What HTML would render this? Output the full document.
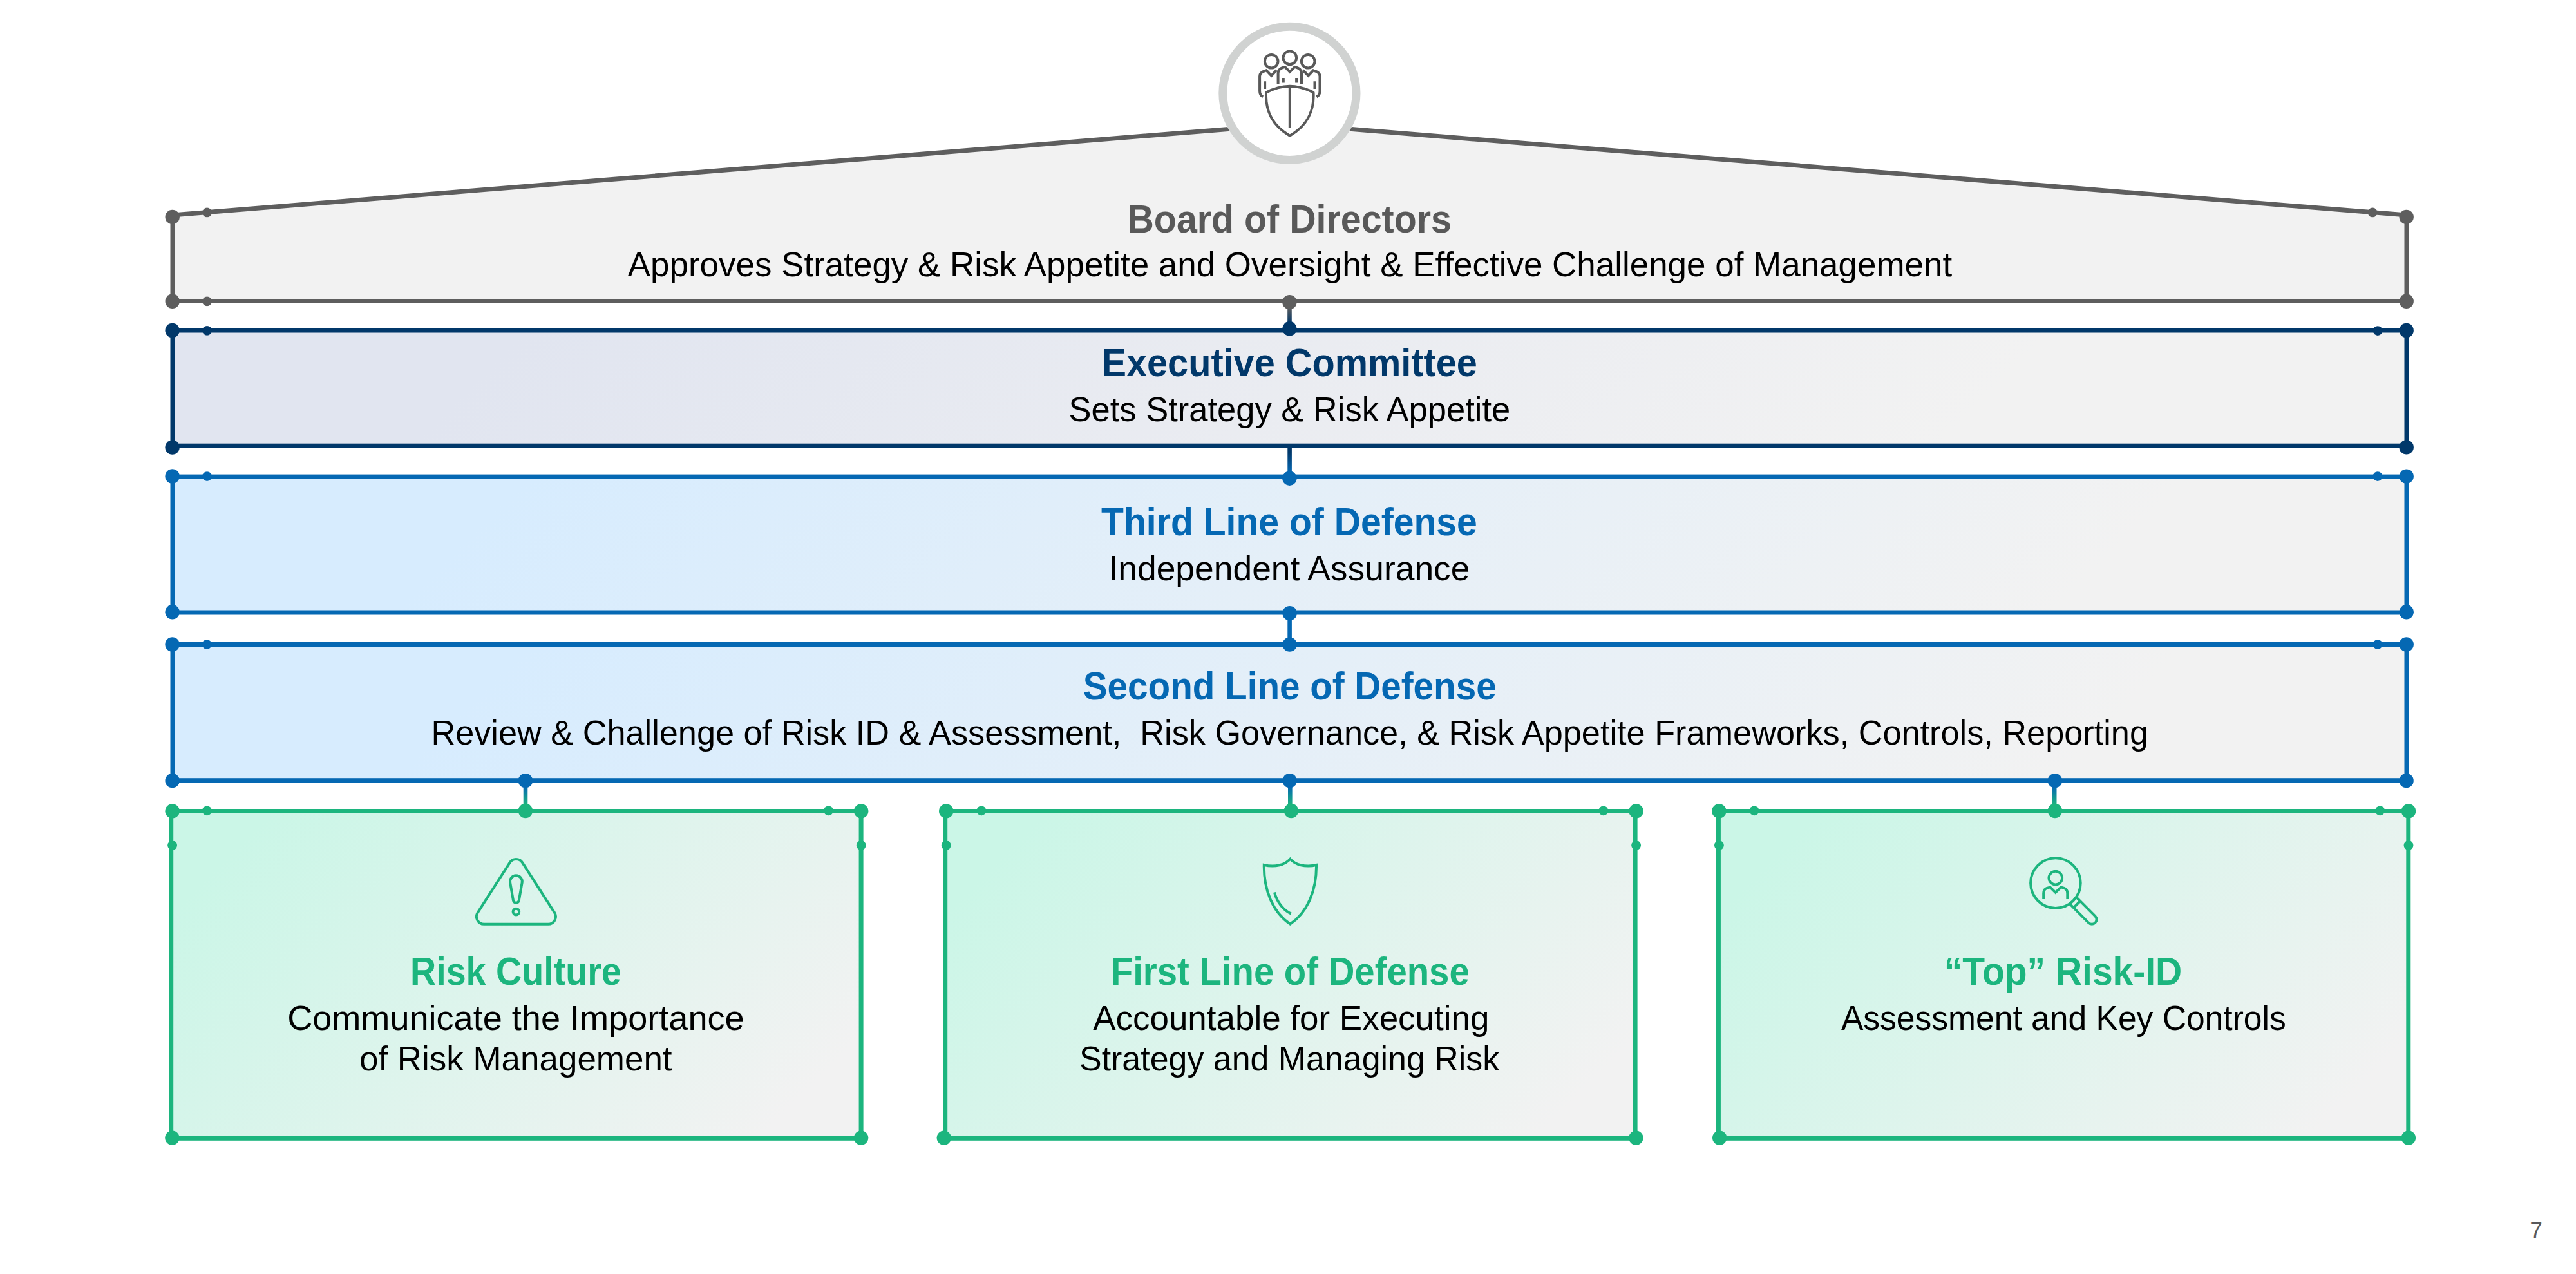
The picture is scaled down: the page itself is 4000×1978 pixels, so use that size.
<!DOCTYPE html>
<html lang="en"><head><meta charset="utf-8"><title>Risk Governance Structure</title>
<style>
html,body{margin:0;padding:0;background:#fff;}
body{width:4000px;height:1978px;overflow:hidden;}
svg{display:block;}
text{font-family:"Liberation Sans",sans-serif;white-space:pre;}
</style></head><body>
<svg width="4000" height="1978" viewBox="0 0 4000 1978" role="img" aria-label="Risk governance structure diagram">
<defs>
<linearGradient id="gE" gradientUnits="userSpaceOnUse" x1="268.0" y1="513.0" x2="2092.1" y2="2337.1"><stop offset="0" stop-color="#e1e5f0"/><stop offset="0.15" stop-color="#e1e5f0"/><stop offset="0.8" stop-color="#f2f2f2"/><stop offset="1" stop-color="#f2f2f2"/></linearGradient>
<linearGradient id="gT" gradientUnits="userSpaceOnUse" x1="268.0" y1="740.1" x2="2107.9" y2="2580.1"><stop offset="0" stop-color="#d7ecfe"/><stop offset="0.15" stop-color="#d7ecfe"/><stop offset="0.85" stop-color="#f2f2f2"/><stop offset="1" stop-color="#f2f2f2"/></linearGradient>
<linearGradient id="gS" gradientUnits="userSpaceOnUse" x1="268.0" y1="1000.5" x2="2108.1" y2="2840.6"><stop offset="0" stop-color="#d7ecfe"/><stop offset="0.15" stop-color="#d7ecfe"/><stop offset="0.85" stop-color="#f2f2f2"/><stop offset="1" stop-color="#f2f2f2"/></linearGradient>
<linearGradient id="gG0" gradientUnits="userSpaceOnUse" x1="265.7" y1="1259.5" x2="1055.3" y2="2049.1"><stop offset="0" stop-color="#cbf6e7"/><stop offset="0.1" stop-color="#cbf6e7"/><stop offset="0.9" stop-color="#f2f2f2"/><stop offset="1" stop-color="#f2f2f2"/></linearGradient>
<linearGradient id="gG1" gradientUnits="userSpaceOnUse" x1="1467.7" y1="1259.5" x2="2257.3" y2="2049.1"><stop offset="0" stop-color="#cbf6e7"/><stop offset="0.1" stop-color="#cbf6e7"/><stop offset="0.9" stop-color="#f2f2f2"/><stop offset="1" stop-color="#f2f2f2"/></linearGradient>
<linearGradient id="gG2" gradientUnits="userSpaceOnUse" x1="2668.4" y1="1259.5" x2="3458.0" y2="2049.1"><stop offset="0" stop-color="#cbf6e7"/><stop offset="0.1" stop-color="#cbf6e7"/><stop offset="0.9" stop-color="#f2f2f2"/><stop offset="1" stop-color="#f2f2f2"/></linearGradient>
<linearGradient id="c1" gradientUnits="userSpaceOnUse" x1="2002.5" y1="469" x2="2002.501" y2="510"><stop offset="0.2" stop-color="#5e5e5e"/><stop offset="0.8" stop-color="#01386a"/></linearGradient>
<linearGradient id="c2" gradientUnits="userSpaceOnUse" x1="2002.6" y1="692" x2="2002.601" y2="742.7"><stop offset="0.2" stop-color="#01386a"/><stop offset="0.8" stop-color="#0568b3"/></linearGradient>
<linearGradient id="c3" gradientUnits="userSpaceOnUse" x1="2002.6" y1="952" x2="2002.601" y2="1000.6"><stop offset="0.2" stop-color="#0568b3"/><stop offset="0.8" stop-color="#0568b3"/></linearGradient>
<linearGradient id="c4" gradientUnits="userSpaceOnUse" x1="816.0" y1="1212" x2="816.001" y2="1259"><stop offset="0.2" stop-color="#0568b3"/><stop offset="0.8" stop-color="#1cb57e"/></linearGradient>
<linearGradient id="c5" gradientUnits="userSpaceOnUse" x1="2003.3" y1="1212" x2="2003.301" y2="1259"><stop offset="0.2" stop-color="#0568b3"/><stop offset="0.8" stop-color="#1cb57e"/></linearGradient>
<linearGradient id="c6" gradientUnits="userSpaceOnUse" x1="3190.2" y1="1212" x2="3190.201" y2="1259"><stop offset="0.2" stop-color="#0568b3"/><stop offset="0.8" stop-color="#1cb57e"/></linearGradient>
</defs>
<rect width="4000" height="1978" fill="#fff"/>
<path d="M268.0,467.6 L268.0,334 L2002.4,192.7 L3737.0,334 L3737.0,467.6 Z" fill="#f2f2f2" stroke="#5e5e5e" stroke-width="7.0" stroke-linejoin="miter"/>
<rect x="268.0" y="513.0" width="3469.0" height="179.20000000000005" fill="url(#gE)" stroke="#01386a" stroke-width="7.0"/>
<rect x="268.0" y="740.1" width="3469.0" height="210.89999999999998" fill="url(#gT)" stroke="#0568b3" stroke-width="7.0"/>
<rect x="268.0" y="1000.5" width="3469.0" height="211.20000000000005" fill="url(#gS)" stroke="#0568b3" stroke-width="7.0"/>
<rect x="265.7" y="1259.5" width="1071.4" height="507.8" fill="url(#gG0)" stroke="#1cb57e" stroke-width="7.0"/>
<rect x="1467.7" y="1259.5" width="1071.4" height="507.8" fill="url(#gG1)" stroke="#1cb57e" stroke-width="7.0"/>
<rect x="2668.4" y="1259.5" width="1071.4" height="507.8" fill="url(#gG2)" stroke="#1cb57e" stroke-width="7.0"/>
<line x1="2002.5" y1="469" x2="2002.501" y2="510" stroke="url(#c1)" stroke-width="6.6"/>
<line x1="2002.6" y1="692" x2="2002.601" y2="742.7" stroke="url(#c2)" stroke-width="6.6"/>
<line x1="2002.6" y1="952" x2="2002.601" y2="1000.6" stroke="url(#c3)" stroke-width="6.6"/>
<line x1="816.0" y1="1212" x2="816.001" y2="1259" stroke="url(#c4)" stroke-width="6.6"/>
<line x1="2003.3" y1="1212" x2="2003.301" y2="1259" stroke="url(#c5)" stroke-width="6.6"/>
<line x1="3190.2" y1="1212" x2="3190.201" y2="1259" stroke="url(#c6)" stroke-width="6.6"/>
<circle cx="267.7" cy="336.9" r="11.2" fill="#5e5e5e"/>
<circle cx="3736.7" cy="336.9" r="11.2" fill="#5e5e5e"/>
<circle cx="267.7" cy="467.8" r="11.2" fill="#5e5e5e"/>
<circle cx="3736.7" cy="467.8" r="11.2" fill="#5e5e5e"/>
<circle cx="2002.4" cy="469.1" r="11.2" fill="#5e5e5e"/>
<circle cx="321.5" cy="329.9" r="7.4" fill="#5e5e5e"/>
<circle cx="3684.1" cy="329.9" r="7.4" fill="#5e5e5e"/>
<circle cx="321.5" cy="467.8" r="7.4" fill="#5e5e5e"/>
<circle cx="267.6" cy="513" r="11.2" fill="#01386a"/>
<circle cx="3736.7" cy="513" r="11.2" fill="#01386a"/>
<circle cx="267.6" cy="694.6" r="11.2" fill="#01386a"/>
<circle cx="3736.7" cy="694.4" r="11.2" fill="#01386a"/>
<circle cx="2002.4" cy="510.3" r="11.2" fill="#01386a"/>
<circle cx="321.5" cy="513.3" r="7.4" fill="#01386a"/>
<circle cx="3692.1" cy="513.6" r="7.4" fill="#01386a"/>
<circle cx="267.6" cy="739.5" r="11.2" fill="#0568b3"/>
<circle cx="3736.7" cy="739.7" r="11.2" fill="#0568b3"/>
<circle cx="267.6" cy="950.3" r="11.2" fill="#0568b3"/>
<circle cx="3736.7" cy="950.3" r="11.2" fill="#0568b3"/>
<circle cx="2002.4" cy="742.7" r="11.2" fill="#0568b3"/>
<circle cx="2002.6" cy="952.2" r="11.2" fill="#0568b3"/>
<circle cx="321.5" cy="739.6" r="7.4" fill="#0568b3"/>
<circle cx="3692" cy="739.6" r="7.4" fill="#0568b3"/>
<circle cx="267.6" cy="1000.5" r="11.2" fill="#0568b3"/>
<circle cx="3736.7" cy="1000.5" r="11.2" fill="#0568b3"/>
<circle cx="267.6" cy="1212.2" r="11.2" fill="#0568b3"/>
<circle cx="3736.6" cy="1212.2" r="11.2" fill="#0568b3"/>
<circle cx="2002.6" cy="1000.6" r="11.2" fill="#0568b3"/>
<circle cx="815.9" cy="1212.2" r="11.2" fill="#0568b3"/>
<circle cx="2002.6" cy="1212.2" r="11.2" fill="#0568b3"/>
<circle cx="3190.9" cy="1212.2" r="11.2" fill="#0568b3"/>
<circle cx="321.2" cy="1000.5" r="7.4" fill="#0568b3"/>
<circle cx="3692" cy="1000.5" r="7.4" fill="#0568b3"/>
<circle cx="267.6" cy="1259.4" r="11.2" fill="#1cb57e"/>
<circle cx="1337.2" cy="1259.4" r="11.2" fill="#1cb57e"/>
<circle cx="267.4" cy="1766.6" r="11.2" fill="#1cb57e"/>
<circle cx="1337.1" cy="1766.6" r="11.2" fill="#1cb57e"/>
<circle cx="815.9" cy="1259.0" r="11.2" fill="#1cb57e"/>
<circle cx="321.4" cy="1258.8" r="7.4" fill="#1cb57e"/>
<circle cx="1286.5" cy="1258.8" r="7.4" fill="#1cb57e"/>
<circle cx="267.6" cy="1312.5" r="7.4" fill="#1cb57e"/>
<circle cx="1337.2" cy="1312.5" r="7.4" fill="#1cb57e"/>
<circle cx="1469.2" cy="1259.4" r="11.2" fill="#1cb57e"/>
<circle cx="2540.6" cy="1259.4" r="11.2" fill="#1cb57e"/>
<circle cx="1465.8" cy="1766.6" r="11.2" fill="#1cb57e"/>
<circle cx="2540.4" cy="1766.6" r="11.2" fill="#1cb57e"/>
<circle cx="2004.9" cy="1259.0" r="11.2" fill="#1cb57e"/>
<circle cx="1523.9" cy="1258.8" r="7.4" fill="#1cb57e"/>
<circle cx="2489.8" cy="1258.8" r="7.4" fill="#1cb57e"/>
<circle cx="1469.2" cy="1312.5" r="7.4" fill="#1cb57e"/>
<circle cx="2540.6" cy="1312.5" r="7.4" fill="#1cb57e"/>
<circle cx="2669.4" cy="1259.4" r="11.2" fill="#1cb57e"/>
<circle cx="3740.0" cy="1259.4" r="11.2" fill="#1cb57e"/>
<circle cx="2670.2" cy="1766.6" r="11.2" fill="#1cb57e"/>
<circle cx="3739.9" cy="1766.6" r="11.2" fill="#1cb57e"/>
<circle cx="3190.9" cy="1259.0" r="11.2" fill="#1cb57e"/>
<circle cx="2724.0" cy="1258.8" r="7.4" fill="#1cb57e"/>
<circle cx="3695.7" cy="1258.8" r="7.4" fill="#1cb57e"/>
<circle cx="2669.4" cy="1312.5" r="7.4" fill="#1cb57e"/>
<circle cx="3740.0" cy="1312.5" r="7.4" fill="#1cb57e"/>
<circle cx="2002.4" cy="144.8" r="103.6" fill="#fff" stroke="#d0d2d1" stroke-width="13"/>
<g fill="none" stroke="#595959" stroke-width="4" stroke-linejoin="miter">
<circle cx="2002.8" cy="89.7" r="10.3"/><circle cx="1974.2" cy="95.2" r="10.3"/><circle cx="2031.2" cy="95.2" r="10.3"/>
<path d="M1984.6,130.3 L1984.6,113.4 Q1984.6,106.5 1994.0,104.2 L1995.3,103.9 L2002.8,111.7 L2010.4,103.9 L2011.6,104.2 Q2021.0,106.5 2021.0,113.4 L2021.0,130.3"/>
<path d="M1992.8,120.9 L1992.8,128.4 M2013.1,120.9 L2013.1,128.4"/>
<path d="M1961.1,150.4 Q1956.1,147.9 1956.1,141.6 L1956.1,118.4 Q1956.1,112.1 1965.1,109.7 L1966.4,109.3 L1974.2,117.5 L1982.3,109.0"/>
<path d="M2044.5,150.4 Q2049.5,147.9 2049.5,141.6 L2049.5,118.4 Q2049.5,112.1 2040.5,109.7 L2039.2,109.3 L2031.5,117.5 L2023.3,109.0"/>
<path d="M1964.1,126.2 L1964.1,137.9 M2041.5,126.2 L2041.5,137.9"/>
<path d="M1966.1,143.5 Q1984.0,134.3 2002.8,133.8 Q2021.7,134.3 2039.5,143.5 C2041.1,171.8 2029.2,195.7 2002.8,210.7 C1976.4,195.7 1964.5,171.8 1966.1,143.5 Z" fill="#fff" stroke-linejoin="round"/>
<path d="M2002.8,134.3 L2002.8,198.4"/>
</g>
<g fill="none" stroke="#1cb57e" stroke-width="4"><path d="M791.6,1339.4 A11.6,11.6 0 0 1 811.2,1339.4 L861.0,1416.8 A11.6,11.6 0 0 1 851.2,1434.7 L751.6,1434.7 A11.6,11.6 0 0 1 741.8,1416.8 Z"/><path d="M810.7,1370.1 L805.8,1398.2 A4.5,4.5 0 0 1 797.0,1398.2 L792.1,1370.1 A9.4,9.4 0 1 1 810.7,1370.1 Z"/><circle cx="801.4" cy="1415.6" r="4.8"/></g>
<g fill="none" stroke="#1cb57e" stroke-width="4" stroke-linejoin="miter">
<path d="M2003.4,1333.7 C1995.5,1342.7 1980.4,1347.1 1962.8,1343.0 C1962.2,1380.4 1975.4,1415.6 2003.4,1434.7 C2031.4,1415.6 2044.6,1380.4 2044.0,1343.0 C2026.4,1347.1 2011.3,1342.7 2003.4,1333.7 Z"/>
<path d="M1978.9,1385.4 C1982.9,1400.5 1993.0,1413.7 2004.9,1418.7"/>
</g>
<g fill="none" stroke="#1cb57e" stroke-width="4">
<circle cx="3191.9" cy="1371.1" r="38.8"/>
<circle cx="3191.8" cy="1363.1" r="10.3"/>
<path d="M3173.2,1396.0 L3173.2,1386.7 Q3173.2,1379.4 3181.9,1377.9 L3183.5,1377.6 L3191.8,1385.7 L3200.1,1377.6 L3201.8,1377.9 Q3210.3,1379.4 3210.3,1386.7 L3210.3,1396.0" stroke-linejoin="miter"/>
<g transform="rotate(45 3191.9 1371.1)"><path d="M3230.0,1363.8 L3271.6,1363.8 A7.3,7.3 0 0 1 3271.6,1378.3999999999999 L3230.0,1378.3999999999999 M3238.7000000000003,1363.8 L3238.7000000000003,1378.3999999999999"/></g>
</g>
<text x="1750.46" y="360.5" font-size="62" font-weight="700" fill="#595959" textLength="503.49" lengthAdjust="spacingAndGlyphs" xml:space="preserve">Board of Directors</text>
<text x="974.70" y="429.0" font-size="54" font-weight="400" fill="#000" textLength="2056.49" lengthAdjust="spacingAndGlyphs" xml:space="preserve">Approves Strategy &amp; Risk Appetite and Oversight &amp; Effective Challenge of Management</text>
<text x="1710.44" y="584.4" font-size="62" font-weight="700" fill="#01386a" textLength="583.43" lengthAdjust="spacingAndGlyphs" xml:space="preserve">Executive Committee</text>
<text x="1659.52" y="653.5" font-size="54" font-weight="400" fill="#000" textLength="685.72" lengthAdjust="spacingAndGlyphs" xml:space="preserve">Sets Strategy &amp; Risk Appetite</text>
<text x="1710.06" y="831.0" font-size="62" font-weight="700" fill="#0568b3" textLength="583.79" lengthAdjust="spacingAndGlyphs" xml:space="preserve">Third Line of Defense</text>
<text x="1721.47" y="900.9" font-size="54" font-weight="400" fill="#000" textLength="561.00" lengthAdjust="spacingAndGlyphs" xml:space="preserve">Independent Assurance</text>
<text x="1681.87" y="1086.3" font-size="62" font-weight="700" fill="#0568b3" textLength="641.77" lengthAdjust="spacingAndGlyphs" xml:space="preserve">Second Line of Defense</text>
<text x="669.41" y="1155.9" font-size="54" font-weight="400" fill="#000" textLength="2666.56" lengthAdjust="spacingAndGlyphs" xml:space="preserve">Review &amp; Challenge of Risk ID &amp; Assessment,  Risk Governance, &amp; Risk Appetite Frameworks, Controls, Reporting</text>
<text x="636.98" y="1528.8" font-size="62" font-weight="700" fill="#1cb57e" textLength="327.83" lengthAdjust="spacingAndGlyphs" xml:space="preserve">Risk Culture</text>
<text x="446.15" y="1598.7" font-size="54" font-weight="400" fill="#000" textLength="709.45" lengthAdjust="spacingAndGlyphs" xml:space="preserve">Communicate the Importance</text>
<text x="557.98" y="1662.1" font-size="54" font-weight="400" fill="#000" textLength="485.61" lengthAdjust="spacingAndGlyphs" xml:space="preserve">of Risk Management</text>
<text x="1724.83" y="1528.8" font-size="62" font-weight="700" fill="#1cb57e" textLength="556.89" lengthAdjust="spacingAndGlyphs" xml:space="preserve">First Line of Defense</text>
<text x="1697.20" y="1598.7" font-size="54" font-weight="400" fill="#000" textLength="615.22" lengthAdjust="spacingAndGlyphs" xml:space="preserve">Accountable for Executing</text>
<text x="1676.04" y="1662.1" font-size="54" font-weight="400" fill="#000" textLength="652.08" lengthAdjust="spacingAndGlyphs" xml:space="preserve">Strategy and Managing Risk</text>
<text x="3018.80" y="1528.8" font-size="62" font-weight="700" fill="#1cb57e" textLength="369.50" lengthAdjust="spacingAndGlyphs" xml:space="preserve">“Top” Risk-ID</text>
<text x="2858.90" y="1598.7" font-size="54" font-weight="400" fill="#000" textLength="690.86" lengthAdjust="spacingAndGlyphs" xml:space="preserve">Assessment and Key Controls</text>
<text x="3928.6" y="1921.9" font-size="34.7" fill="#58585a">7</text>
</svg>
</body></html>
